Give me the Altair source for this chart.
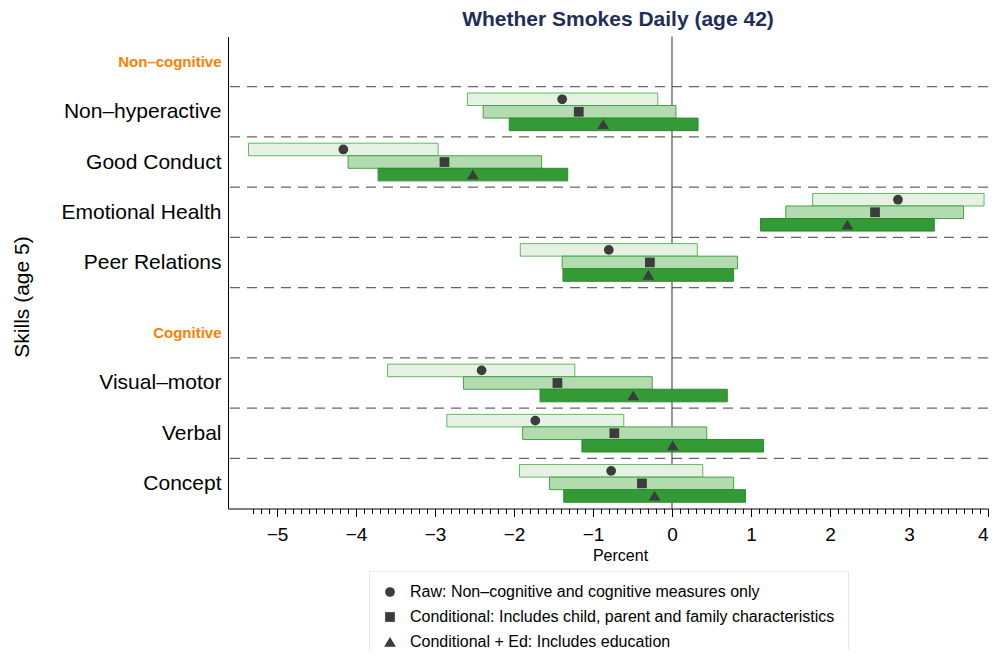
import altair as alt
import pandas as pd

# ---------------- data ----------------
skills = ["Non–hyperactive", "Good Conduct", "Emotional Health", "Peer Relations",
          "Visual–motor", "Verbal", "Concept"]
headers = ["Non–cognitive", "Cognitive"]

models = ["Raw: Non–cognitive and cognitive measures only",
          "Conditional: Includes child, parent and family characteristics",
          "Conditional + Ed: Includes education"]

raw_est = [-1.39, -4.16, 2.86, -0.80, -2.41, -1.73, -0.77]
raw_lo = [-2.59, -5.36, 1.78, -1.92, -3.60, -2.85, -1.93]
raw_hi = [-0.18, -2.96, 3.95, 0.32, -1.23, -0.61, 0.39]

cond_est = [-1.18, -2.88, 2.57, -0.28, -1.45, -0.73, -0.38]
cond_lo = [-2.39, -4.10, 1.44, -1.39, -2.64, -1.89, -1.55]
cond_hi = [0.05, -1.65, 3.69, 0.83, -0.25, 0.44, 0.78]

ed_est = [-0.87, -2.52, 2.22, -0.30, -0.49, 0.01, -0.22]
ed_lo = [-2.06, -3.72, 1.12, -1.38, -1.67, -1.14, -1.37]
ed_hi = [0.33, -1.32, 3.32, 0.78, 0.70, 1.16, 0.93]

# ---------------- layout (row slots) ----------------
header_pos = [0.5, 5.9]
skill_pos = [1.5, 2.5, 3.5, 4.5, 6.9, 7.9, 8.9]
separators = [1, 2, 3, 4, 5, 6.4, 7.4, 8.4]
y_domain = [0, 9.4]
offsets = [-0.25, 0.0, 0.25]
half_h = 0.125

fills = ["#e5f2e3", "#b3dbb0", "#339a36"]
strokes = ["#62b862", "#43a443", "#2a8c2c"]
shapes = ["circle", "square", "M-1.2,0.95L1.2,0.95L0,-1.05Z"]

series = [(raw_est, raw_lo, raw_hi), (cond_est, cond_lo, cond_hi), (ed_est, ed_lo, ed_hi)]
rows = []
for j, (est, lo, hi) in enumerate(series):
    for i, s in enumerate(skills):
        c = skill_pos[i] + offsets[j]
        rows.append({"skill": s, "model": models[j], "k": j,
                     "est": est[i], "lo": lo[i], "hi": hi[i],
                     "yc": c, "y1": c - half_h, "y2": c + half_h})
df = pd.DataFrame(rows)

# ---------------- axes ----------------
minor_vals = [round(v / 10, 1) for v in range(-53, 41)]
is_major = "abs(datum.value - round(datum.value)) < 0.001"

X_AXIS = alt.Axis(
    values=minor_vals,
    labelExpr=f"{is_major} ? format(round(datum.value), 'd') : ''",
    tickSize={"condition": {"test": is_major, "value": 8}, "value": 5},
    tickColor="black", tickWidth=1,
    domainColor="black", domainWidth=1, grid=False,
    labelFontSize=19, labelColor="black", labelPadding=9,
    labelOverlap=False, labelFlush=True, labelBound=False,
    title="Percent", titleFontSize=16, titleFontWeight="normal", titleColor="black",
    titleX=392, titleY=47, titleBaseline="middle", titleAlign="center",
)

label_pos_all = sorted(header_pos + skill_pos)
label_text = {p: t for p, t in zip(header_pos, headers)}
label_text.update({p: t for p, t in zip(skill_pos, skills)})
expr = ""
for p in label_pos_all[:-1]:
    expr += f"datum.value < {p + 0.45} ? '{label_text[p]}' : "
expr += f"'{label_text[label_pos_all[-1]]}'"
hdr_test = " || ".join(f"abs(datum.value - {p}) < 0.01" for p in header_pos)

Y_AXIS = alt.Axis(
    values=label_pos_all, labelExpr=expr,
    labelColor={"condition": {"test": hdr_test, "value": "#ff7f00"}, "value": "black"},
    labelFontWeight={"condition": {"test": hdr_test, "value": "bold"}, "value": "normal"},
    labelFontSize={"condition": {"test": hdr_test, "value": 15}, "value": 21},
    ticks=False, tickSize=0, domainColor="black", domainWidth=1, grid=False,
    labelPadding=7, labelBaseline="middle", labelOverlap=False, labelLimit=300,
    title="Skills (age 5)", titleFontSize=21, titleFontWeight="normal", titleColor="black",
    titleAngle=270, titleX=-206, titleY=260, titleAlign="center", titleBaseline="middle",
)

x_scale = alt.Scale(domain=[-5.62, 4.0], nice=False, zero=False)
y_scale = alt.Scale(domain=y_domain, reverse=True, nice=False, zero=False)

sep = alt.Chart(pd.DataFrame({"y": separators})).mark_rule(
    color="#666666", strokeWidth=1.2, strokeDash=[10, 7]
).encode(y=alt.Y("y:Q", scale=y_scale, axis=Y_AXIS))

zero = alt.Chart(pd.DataFrame({"x": [0]})).mark_rule(color="#444444", strokeWidth=1.1).encode(
    x=alt.X("x:Q", scale=x_scale, axis=X_AXIS))

bar_layers = []
for j in range(3):
    bar_layers.append(
        alt.Chart(df).transform_filter(alt.datum.k == j)
        .mark_bar(strokeWidth=1, opacity=1, fill=fills[j], stroke=strokes[j])
        .encode(
            x=alt.X("lo:Q", scale=x_scale, axis=X_AXIS), x2="hi:Q",
            y=alt.Y("y1:Q", scale=y_scale, axis=Y_AXIS), y2="y2:Q",
        )
    )

pts = alt.Chart(df).mark_point(filled=True, size=95, color="#3c3c3c", opacity=1).encode(
    x=alt.X("est:Q", scale=x_scale, axis=X_AXIS),
    y=alt.Y("yc:Q", scale=y_scale, axis=Y_AXIS),
    shape=alt.Shape("model:N", scale=alt.Scale(domain=models, range=shapes),
                    legend=alt.Legend(title=None, orient="none", legendX=141, legendY=534.5,
                                      direction="vertical", padding=13, rowPadding=9,
                                      labelOffset=12, labelFontSize=16, labelColor="black",
                                      labelLimit=600, symbolSize=95, symbolFillColor="#3c3c3c",
                                      symbolStrokeWidth=0, strokeColor="#e3e8ec",
                                      fillColor="white")),
)

chart = alt.layer(sep, zero, *bar_layers, pts).properties(
    width=760, height=472,
    title=alt.TitleParams("Whether Smokes Daily (age 42)", fontSize=21, fontWeight="bold",
                          color="#1f2d5a", anchor="middle", dx=10, offset=6),
    autosize=alt.AutoSizeParams(type="none"),
    padding={"left": 220, "top": 28.5, "right": 1, "bottom": 141.5},
).configure(font="Liberation Sans").configure_view(strokeWidth=0)

chart.save("out.html", embed_options={"renderer": "svg", "actions": False})
